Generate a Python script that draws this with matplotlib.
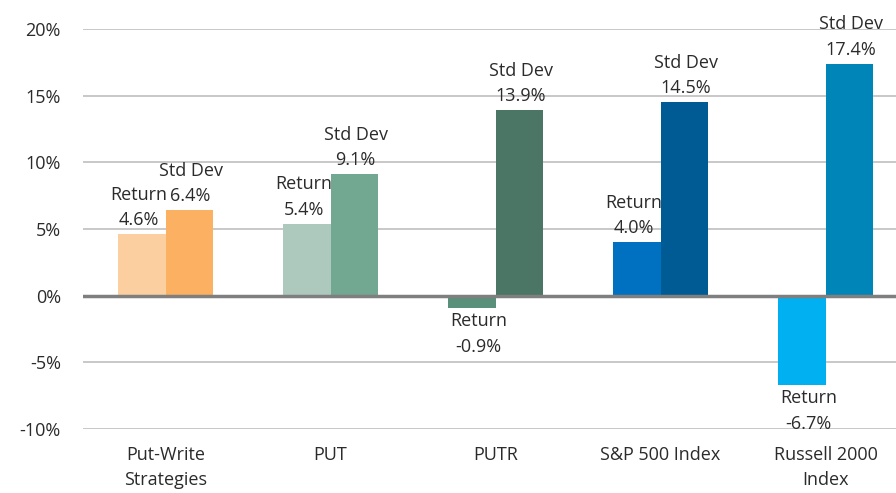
import matplotlib
matplotlib.use("Agg")
import matplotlib.pyplot as plt
import numpy as np

categories = ["Put-Write\nStrategies", "PUT", "PUTR", "S&P 500 Index", "Russell 2000\nIndex"]
returns = [4.6, 5.4, -0.9, 4.0, -6.7]
std_devs = [6.4, 9.1, 13.9, 14.5, 17.4]
return_colors = ["#FBCF9F", "#ADC9BE", "#5A8F7B", "#0070C0", "#00B0F0"]
std_colors = ["#FBB062", "#72A792", "#4B7565", "#005A94", "#0085B8"]
yticks = [-10, -5, 0, 5, 10, 15, 20]

plt.rcParams['font.family'] = ['Open Sans', 'DejaVu Sans']
fs = 13
ls = 1.55
tcol = "#2B2B2B"

fig = plt.figure(figsize=(8.96, 4.93), dpi=100)
W = 896
H = 493
left = 83 / W
right = 908 / W
y_top = 29
y_bot = 429
ax = fig.add_axes([left, 1 - y_bot / H, right - left, (y_bot - y_top) / H])
ax.set_xlim(-0.5, len(categories) - 0.5)
ax.set_ylim(-10, 20)

x = np.arange(len(categories))
w = 0.285
for i in range(len(categories)):
    ax.bar(x[i] - w / 2, returns[i], w, color=return_colors[i], zorder=3)
    ax.bar(x[i] + w / 2, std_devs[i], w, color=std_colors[i], zorder=3)
    r = returns[i]
    if r >= 0:
        ax.annotate(f"Return\n{r:.1f}%", (x[i] - w / 2 - 0.02, r), xytext=(0, 3.5),
                    textcoords="offset points", ha="center", va="bottom",
                    fontsize=fs, color=tcol, linespacing=ls, zorder=2)
    else:
        ax.annotate(f"Return\n{r:.1f}%", (x[i] - w / 2 + 0.04, r), xytext=(0, -3),
                    textcoords="offset points", ha="center", va="top",
                    fontsize=fs, color=tcol, linespacing=ls, zorder=2)
    s = std_devs[i]
    ax.annotate(f"Std Dev\n{s:.1f}%", (x[i] + w / 2 + 0.01, s), xytext=(0, 3.5),
                textcoords="offset points", ha="center", va="bottom",
                fontsize=fs, color=tcol, linespacing=ls, zorder=2,
                annotation_clip=False)

ax.set_yticks(yticks)
ax.set_yticklabels([f"{t}%" for t in yticks], fontsize=fs, color=tcol)
ax.set_xticks(x)
ax.set_xticklabels(categories, fontsize=fs, color=tcol, linespacing=ls)
ax.tick_params(axis="both", length=0)
ax.tick_params(axis="y", pad=16)
ax.tick_params(axis="x", pad=12)
for t in yticks:
    if t == 0:
        continue
    ax.axhline(t, color="#BFBFBF", lw=1.2, zorder=1)
ax.axhline(0, color="#7F7F7F", lw=2.5, zorder=4)
for sp in ax.spines.values():
    sp.set_visible(False)

fig.savefig("out.png", dpi=100)
